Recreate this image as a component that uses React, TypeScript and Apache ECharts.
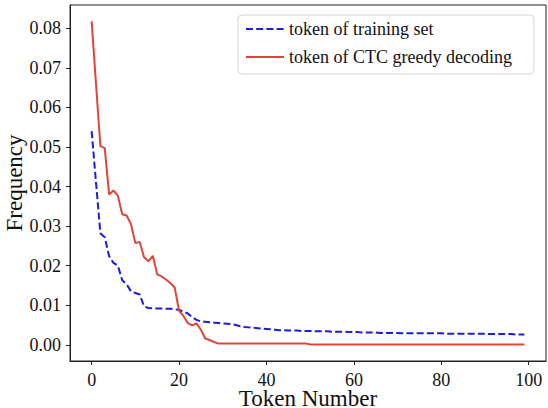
import React, { useEffect, useRef } from "react";
import * as echarts from "echarts";

const tokenIndex: number[] = Array.from({ length: 100 }, (_, i) => i);

const trainingSet: number[] = [
  0.054, 0.041, 0.0282, 0.0272, 0.0224, 0.0207, 0.02, 0.0163, 0.0153, 0.0135,
  0.0131, 0.0127, 0.0097, 0.0093, 0.0092, 0.0092, 0.0092, 0.0091, 0.0091, 0.009,
  0.0088, 0.0084, 0.0079, 0.007, 0.0063, 0.0059, 0.0058, 0.0057, 0.0056, 0.0055,
  0.0054, 0.0053, 0.0052, 0.005, 0.0047, 0.0045, 0.0044, 0.0043, 0.0042, 0.0041,
  0.004, 0.0039, 0.0038, 0.0037, 0.0037, 0.0036, 0.0036, 0.0036, 0.0035, 0.0035,
  0.0035, 0.0034, 0.0034, 0.0034, 0.0034, 0.0033, 0.0033, 0.0033, 0.0033, 0.0032,
  0.0032, 0.0032, 0.0031, 0.0031, 0.0031, 0.0031, 0.003, 0.003, 0.003, 0.003,
  0.003, 0.0029, 0.0029, 0.0029, 0.0029, 0.0029, 0.0029, 0.0029, 0.0029, 0.0029,
  0.0029, 0.0028, 0.0028, 0.0028, 0.0028, 0.0028, 0.0028, 0.0028, 0.0028, 0.0028,
  0.0028, 0.0027, 0.0027, 0.0027, 0.0027, 0.0027, 0.0027, 0.0026, 0.0026, 0.0026,
];

const ctcGreedy: number[] = [
  0.0818, 0.066, 0.0502, 0.0497, 0.038, 0.039, 0.0377, 0.033, 0.0327, 0.0305,
  0.0257, 0.026, 0.0221, 0.0211, 0.0225, 0.0178, 0.0173, 0.0165, 0.0156, 0.0145,
  0.0086, 0.0073, 0.0055, 0.0049, 0.0054, 0.0038, 0.0016, 0.0012, 0.0007, 0.0003,
  0.0003, 0.0003, 0.0003, 0.0003, 0.0003, 0.0003, 0.0003, 0.0003, 0.0003, 0.0003,
  0.0003, 0.0003, 0.0003, 0.0003, 0.0003, 0.0003, 0.0003, 0.0003, 0.0003, 0.0003,
  0.0001, 0.0001, 0.0001, 0.0001, 0.0001, 0.0001, 0.0001, 0.0001, 0.0001, 0.0001,
  0.0001, 0.0001, 0.0001, 0.0001, 0.0001, 0.0001, 0.0001, 0.0001, 0.0001, 0.0001,
  0.0001, 0.0001, 0.0001, 0.0001, 0.0001, 0.0001, 0.0001, 0.0001, 0.0001, 0.0001,
  0.0001, 0.0001, 0.0001, 0.0001, 0.0001, 0.0001, 0.0001, 0.0001, 0.0001, 0.0001,
  0.0001, 0.0001, 0.0001, 0.0001, 0.0001, 0.0001, 0.0001, 0.0001, 0.0001, 0.0001,
];

const xTicks: number[] = [0, 20, 40, 60, 80, 100];
const xTickLabels: string[] = ["0", "20", "40", "60", "80", "100"];
const yTicks: number[] = [0, 0.01, 0.02, 0.03, 0.04, 0.05, 0.06, 0.07, 0.08];
const yTickLabels: string[] = ["0.00", "0.01", "0.02", "0.03", "0.04", "0.05", "0.06", "0.07", "0.08"];

const seriesNames = ["token of training set", "token of CTC greedy decoding"];

const FONT = "Liberation Serif";

const tickRich = {
  t: { fontFamily: FONT, fontSize: 18, color: "#111", lineHeight: 16 },
};

function pick(ticks: number[], labels: string[], v: number): string {
  const idx = ticks.findIndex((t) => Math.abs(t - v) < 1e-9);
  return idx >= 0 ? `{t|${labels[idx]}}` : "";
}

export default function App() {
  const ref = useRef<HTMLDivElement>(null);
  useEffect(() => {
    if (!ref.current) return;
    const chart = echarts.init(ref.current, undefined, { renderer: "svg" });
    chart.setOption({
      animation: false,
      backgroundColor: "#ffffff",
      textStyle: { fontFamily: FONT },
      grid: {
        left: 70,
        right: 2,
        top: 5,
        bottom: 47,
        show: true,
        borderColor: "#222222",
        borderWidth: 1,
        backgroundColor: "transparent",
        containLabel: false,
        outerBoundsMode: "none",
      },
      legend: {
        orient: "vertical",
        left: 238,
        top: 15,
        data: seriesNames,
        itemWidth: 38,
        itemHeight: 18,
        itemGap: 10,
        padding: [5, 22, 8, 7],
        backgroundColor: "#ffffff",
        borderColor: "#d6d6d6",
        borderWidth: 1,
        borderRadius: 4,
        itemStyle: { opacity: 0 },
        textStyle: { fontFamily: FONT, fontSize: 18, color: "#111" },
      },
      xAxis: {
        type: "value",
        min: -4.95,
        max: 103.95,
        name: "Token Number",
        nameLocation: "middle",
        nameGap: 28,
        nameMoveOverlap: false,
        nameTextStyle: { fontFamily: FONT, fontSize: 23, color: "#111", lineHeight: 18 },
        axisLine: { show: true, onZero: false, lineStyle: { color: "#222", width: 1 } },
        axisTick: {
          show: true,
          inside: false,
          length: 4,
          customValues: xTicks,
          lineStyle: { color: "#222" },
        },
        axisLabel: {
          customValues: xTicks,
          margin: 11,
          fontFamily: FONT,
          fontSize: 18,
          color: "#111",
          rich: tickRich,
          formatter: (v: number) => pick(xTicks, xTickLabels, v),
        },
        splitLine: { show: false },
      },
      yAxis: {
        type: "value",
        min: -0.0041,
        max: 0.0859,
        name: "Frequency",
        nameLocation: "middle",
        nameGap: 44,
        nameMoveOverlap: false,
        nameTextStyle: { fontFamily: FONT, fontSize: 23, color: "#111" },
        axisLine: { show: true, onZero: false, lineStyle: { color: "#222", width: 1 } },
        axisTick: {
          show: true,
          inside: false,
          length: 4,
          customValues: yTicks,
          lineStyle: { color: "#222" },
        },
        axisLabel: {
          customValues: yTicks,
          margin: 9,
          fontFamily: FONT,
          fontSize: 18,
          color: "#111",
          rich: tickRich,
          formatter: (v: number) => pick(yTicks, yTickLabels, v),
        },
        splitLine: { show: false },
      },
      series: [
        {
          name: seriesNames[0],
          type: "line",
          symbol: "none",
          showSymbol: false,
          data: tokenIndex.map((x, i) => [x, trainingSet[i]]),
          lineStyle: { color: "#1c1cdc", width: 2, type: [7, 3.2] },
          itemStyle: { color: "#1c1cdc" },
          z: 2,
        },
        {
          name: seriesNames[1],
          type: "line",
          symbol: "none",
          showSymbol: false,
          data: tokenIndex.map((x, i) => [x, ctcGreedy[i]]),
          lineStyle: { color: "#e0443a", width: 2 },
          itemStyle: { color: "#e0443a" },
          z: 3,
        },
      ],
    });
    return () => chart.dispose();
  }, []);
  return (
    <div
      ref={ref}
      style={{ position: "fixed", left: 0, top: 0, width: 548, height: 408, background: "#fff" }}
    />
  );
}
